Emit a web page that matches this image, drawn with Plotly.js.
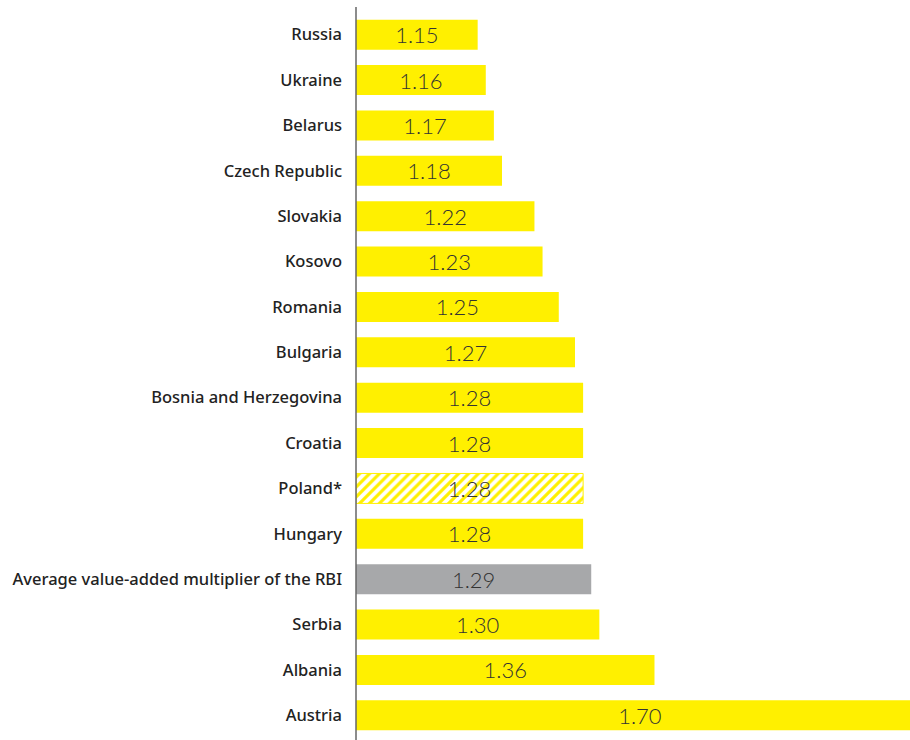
<!DOCTYPE html>
<html>
<head>
<meta charset="utf-8">
<script src="https://cdn.plot.ly/plotly-3.0.1.min.js"></script>
<style>html,body{margin:0;padding:0;background:#fff}#chart{width:910px;height:740px}</style>
</head>
<body>
<div id="chart"></div>
<script>
const countries = ["Russia","Ukraine","Belarus","Czech Republic","Slovakia","Kosovo","Romania","Bulgaria","Bosnia and Herzegovina","Croatia","Poland*","Hungary","Average value-added multiplier of the RBI","Serbia","Albania","Austria"];
const values = [1.15,1.16,1.17,1.18,1.22,1.23,1.25,1.27,1.28,1.28,1.28,1.28,1.29,1.30,1.368,1.70];
const labels = ["1.15","1.16","1.17","1.18","1.22","1.23","1.25","1.27","1.28","1.28","1.28","1.28","1.29","1.30","1.36","1.70"];
const baseline = 1.0;

const YELLOW = "#FFF000", GREY = "#A7A8AA";
const colors = countries.map(c => c.startsWith("Average") ? GREY : YELLOW);
const shapes = countries.map(c => c === "Poland*" ? "/" : "");
const lineW = countries.map(c => c === "Poland*" ? 1 : 0);

const trace = {
  type: "bar",
  orientation: "h",
  y: countries,
  base: baseline,
  x: values.map(v => v - baseline),
  text: labels,
  textposition: "inside",
  insidetextanchor: "middle",
  textangle: 0,
  constraintext: "none",
  textfont: {family: "Lato, 'Open Sans', sans-serif", size: 22, color: "#333333", weight: 300},
  marker: {
    color: colors,
    line: {color: YELLOW, width: lineW},
    pattern: {shape: shapes, fgcolor: YELLOW, bgcolor: "#FFFFFF", size: 7, solidity: 0.45, fillmode: "replace"}
  },
  hoverinfo: "none",
  cliponaxis: true
};

const layout = {
  width: 910, height: 740,
  margin: {l: 356, r: 0, t: 12, b: 2},
  paper_bgcolor: "#fff", plot_bgcolor: "#fff",
  bargap: 0.34,
  showlegend: false,
  xaxis: {range: [1.0, 1.683], visible: false, fixedrange: true},
  yaxis: {
    autorange: "reversed",
    showgrid: false, zeroline: false, showline: false,
    ticks: "", ticklabelstandoff: 13,
    tickfont: {family: "'Noto Sans', sans-serif", size: 16.5, color: "#222222", weight: 500}
  },
  shapes: [{type: "line", xref: "paper", yref: "paper", x0: 0, x1: 0, y0: -0.01, y1: 1.007,
            line: {color: "#666666", width: 1.5}}]
};

Plotly.newPlot("chart", [trace], layout, {displayModeBar: false, staticPlot: true});
</script>
</body>
</html>
